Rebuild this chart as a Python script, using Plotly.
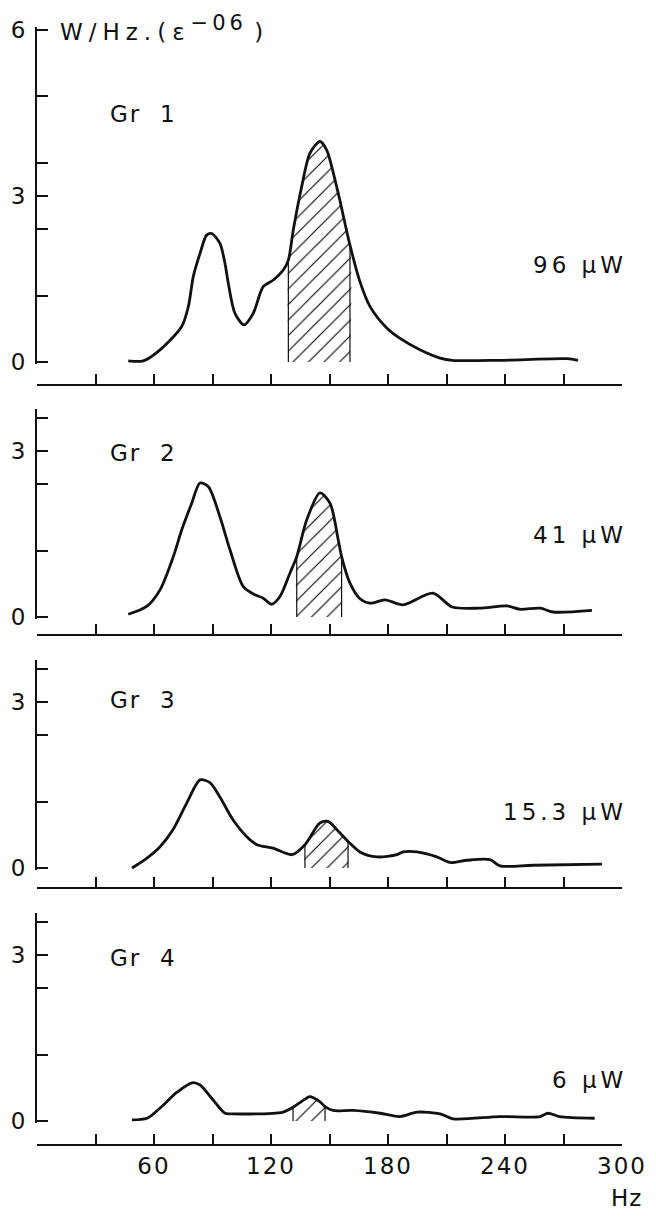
import plotly.graph_objects as go

# frequency (Hz) and spectral power (W/Hz, x1e-06)
gr1_hz = [46.8, 54.5, 63.1, 74.2, 77.6, 80.2, 83.6, 87, 89.6, 93.8, 96.4, 98.1, 101.5, 106.2, 110.9, 116,
          121.2, 126.3, 128.9, 131.4, 135.7, 140, 145.1, 148.5, 153.7, 160.5, 165.6, 170.8, 179.5, 186,
          196.4, 206.7, 213, 237, 271.8, 277.4]
gr1_pw = [0.02, 0.02, 0.22, 0.64, 1.0, 1.55, 1.96, 2.29, 2.32, 2.14, 1.78, 1.42, 0.88, 0.67, 0.88, 1.36,
          1.48, 1.66, 1.84, 2.38, 3.16, 3.77, 3.98, 3.83, 3.16, 2.11, 1.45, 1.0, 0.61, 0.43,
          0.22, 0.07, 0.03, 0.03, 0.06, 0.03]

gr2_hz = [46.8, 56.2, 63.1, 69.9, 74.2, 79.3, 83.6, 87.9, 93.8, 99, 105.8, 111.8, 116, 120.3, 124.6, 129.7,
          133.2, 138.3, 145.1, 150.3, 154.5, 156.2, 160.5, 165.6, 170.8, 178.5, 187.7, 203, 213, 227, 241,
          247.7, 258, 264.6, 284.6]
gr2_pw = [0.05, 0.19, 0.49, 1.09, 1.57, 2.05, 2.42, 2.35, 1.81, 1.21, 0.55, 0.4, 0.34, 0.23, 0.37, 0.79,
          1.09, 1.75, 2.24, 2.05, 1.39, 1.09, 0.61, 0.33, 0.25, 0.31, 0.22, 0.43, 0.18, 0.16, 0.2,
          0.14, 0.16, 0.09, 0.12]

gr3_hz = [48.7, 56.4, 63, 69.7, 76.9, 83.6, 88.7, 93.8, 100.5, 107.7, 112.8, 121, 130.8, 137.4, 145,
          149.2, 155.4, 159.5, 165.6, 174.4, 184.6, 187.7, 194.9, 205, 211.8, 220.5, 232.3, 237.4,
          254.4, 289.7]
gr3_pw = [0, 0.18, 0.38, 0.69, 1.18, 1.59, 1.54, 1.28, 0.87, 0.56, 0.42, 0.36, 0.24, 0.42, 0.81,
          0.84, 0.63, 0.48, 0.29, 0.2, 0.24, 0.29, 0.29, 0.2, 0.1, 0.14, 0.15, 0.04,
          0.05, 0.07]

gr4_hz = [48.7, 56.4, 63, 71.8, 79.5, 83.6, 90.3, 96.4, 100.5, 126.2, 131.3, 139, 140, 145, 147.7,
          151.8, 162, 175.9, 186, 194.9, 206.7, 213.3, 237.4, 258, 262, 268, 286]
gr4_pw = [0.02, 0.05, 0.23, 0.52, 0.69, 0.65, 0.38, 0.14, 0.13, 0.16, 0.25, 0.43, 0.44, 0.35, 0.26,
          0.19, 0.19, 0.14, 0.08, 0.16, 0.13, 0.04, 0.08, 0.08, 0.14, 0.08, 0.05]

# hatched band limits (Hz) per group
hatch_lo = [128.9, 133.2, 137.4, 131.3]
hatch_hi = [160.5, 156.2, 159.5, 147.7]

groups = ["Gr  1", "Gr  2", "Gr  3", "Gr  4"]
powers = ["96 μW", "41 μW", "15.3 μW", "6 μW"]

x_major = [60, 120, 180, 240, 300]
x_minor = [0, 30, 90, 150, 210, 270]

curves = [(gr1_hz, gr1_pw), (gr2_hz, gr2_pw), (gr3_hz, gr3_pw), (gr4_hz, gr4_pw)]

# positions measured in page pixels (656 x 1222); the html body adds an 8px margin
OFF = 8
W, H = 656 - 2 * OFF, 1222 - 2 * OFF
X0, X1 = 37, 622
zero_px = [362, 617, 868, 1121]
xaxis_px = [385, 635, 888, 1145]
top_val = [6.05, 3.75, 3.75, 3.75]
upx = 55.4
ink = "#111111"
FONT = "DejaVu Sans"


def xp(px):
    return (px - X0) / (X1 - X0)


def yp(py):
    return 1 - (py - OFF) / H


def spaced(s, ls=3):
    return '<span style="letter-spacing:%dpx">%s</span>' % (ls, s)


fig = go.Figure()
layout = {}
annotations = []

for i, (hz, pw) in enumerate(curves):
    n = "" if i == 0 else str(i + 1)
    xa, ya = "x" + n, "y" + n

    # hatched area under the curve
    hx = [x for x in hz if hatch_lo[i] <= x <= hatch_hi[i]]
    hy = [y for x, y in zip(hz, pw) if hatch_lo[i] <= x <= hatch_hi[i]]
    fig.add_trace(go.Scatter(x=[hx[0]] + hx + [hx[-1]], y=[0] + hy + [0], xaxis=xa, yaxis=ya,
                             mode="lines", fill="toself",
                             line=dict(width=0, color="rgba(0,0,0,0)", shape="spline", smoothing=0.8),
                             fillcolor="rgba(255,255,255,0)",
                             fillpattern=dict(shape="/", size=11, solidity=0.1, fgcolor="black", bgcolor="white"),
                             hoverinfo="skip", showlegend=False))
    fig.add_trace(go.Scatter(x=[hx[0], hx[0], None, hx[-1], hx[-1]], y=[0, hy[0], None, 0, hy[-1]],
                             xaxis=xa, yaxis=ya, mode="lines", line=dict(width=1.2, color=ink),
                             hoverinfo="skip", showlegend=False))
    fig.add_trace(go.Scatter(x=hz, y=pw, xaxis=xa, yaxis=ya, mode="lines",
                             line=dict(color=ink, width=2.8, shape="spline", smoothing=0.8),
                             showlegend=False))

    bottom = zero_px[i] + 0.04 * upx
    top = zero_px[i] - top_val[i] * upx
    y_major = [0, 3] + ([6] if i == 0 else [])
    y_minor = [1.2, 2.4, 3.6] + ([4.8] if i == 0 else [])

    layout["xaxis" + n] = dict(domain=[0, 1], anchor="free", position=yp(xaxis_px[i]), range=[0, 300],
                               showline=True, linecolor=ink, linewidth=2, ticks="inside", ticklen=10,
                               tickwidth=2, tickcolor=ink, tickmode="array", tickvals=x_major,
                               ticktext=[spaced(str(v), 2) for v in x_major], ticklabeloverflow="allow",
                               minor=dict(tickmode="array", tickvals=x_minor, ticks="inside", ticklen=10,
                                          tickwidth=2, tickcolor=ink, showgrid=False),
                               showticklabels=(i == 3), showgrid=False, zeroline=False, automargin=False,
                               tickfont=dict(size=23, color=ink, family=FONT))
    layout["yaxis" + n] = dict(domain=[yp(bottom), yp(top)], anchor=xa, range=[-0.04, top_val[i]],
                               showline=True, linecolor=ink, linewidth=2, ticks="inside", ticklen=11,
                               tickwidth=2, tickcolor=ink, tickmode="array", tickvals=y_major,
                               ticktext=[str(v) for v in y_major],
                               minor=dict(tickmode="array", tickvals=y_minor, ticks="inside", ticklen=11,
                                          tickwidth=2, tickcolor=ink, showgrid=False),
                               showgrid=False, zeroline=False, ticklabelstandoff=5, automargin=False,
                               tickfont=dict(size=23, color=ink, family=FONT))

annotations.append(dict(text=spaced("W/Hz.(ε", 6) + '<sup><span style="font-size:21px">'
                        + spaced("−06", 4) + '</span></sup>' + spaced(" )", 0),
                        x=xp(58), y=yp(28), xref="paper", yref="paper",
                        xanchor="left", yanchor="middle", showarrow=False))
gr_y = [114, 453, 700, 958]
pw_y = [265, 535, 812, 1080]
for i in range(4):
    annotations.append(dict(text=spaced(groups[i], 2), x=xp(108), y=yp(gr_y[i]), xref="paper", yref="paper",
                            xanchor="left", yanchor="middle", showarrow=False))
    annotations.append(dict(text=spaced(powers[i], 4), x=xp(629), y=yp(pw_y[i]), xref="paper", yref="paper",
                            xanchor="right", yanchor="middle", showarrow=False))
annotations.append(dict(text=spaced("Hz", 1), x=xp(644), y=yp(1198), xref="paper", yref="paper",
                        xanchor="right", yanchor="middle", showarrow=False))

fig.update_layout(**layout)
fig.update_layout(template="none", width=W, height=H, autosize=False,
                  margin=dict(l=X0 - OFF, r=W - (X1 - OFF), t=0, b=0, pad=0),
                  paper_bgcolor="white", plot_bgcolor="white", annotations=annotations,
                  font=dict(family=FONT, size=23, color=ink), showlegend=False)

fig.write_html("out.html")
